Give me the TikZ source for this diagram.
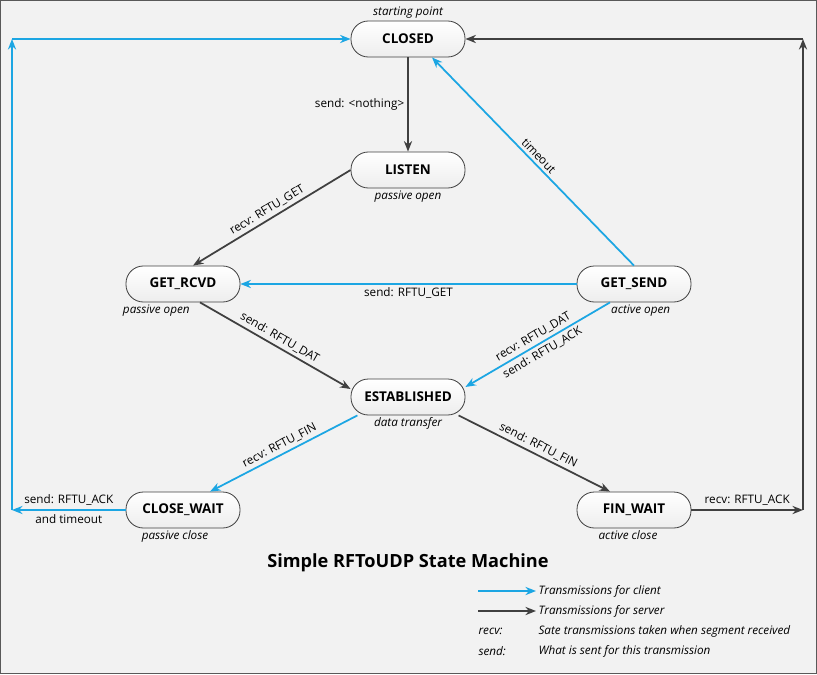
\documentclass[tikz,border=0pt]{standalone}
\usepackage{fontspec}
\setmainfont{Open Sans}
\usepackage{xcolor}
\usetikzlibrary{positioning, arrows.meta}

\definecolor{clientblue}{HTML}{1CA6E3}
\definecolor{serverdark}{HTML}{404040}
\definecolor{panelgray}{HTML}{F2F2F2}

\begin{document}
\begin{tikzpicture}[
    x=0.03cm, y=-0.03cm,
    state/.style={rectangle, rounded corners=0.52cm, draw=serverdark, line width=0.7pt, top color=white, bottom color=black!7, minimum width=3.42cm, minimum height=1.08cm, font=\bfseries\fontsize{11.5}{13}\selectfont},
    note/.style={font=\itshape\fontsize{10}{12}\selectfont, inner sep=2pt},
    lbl/.style={font=\fontsize{10}{12}\selectfont, inner sep=2.5pt},
    client/.style={draw=clientblue, line width=1.5pt, -{Stealth[length=9pt,width=7pt]}},
    server/.style={draw=serverdark, line width=1.5pt, -{Stealth[length=9pt,width=7pt]}}
]
    \useasboundingbox (0,0) rectangle (817,674);
    \draw[fill=panelgray, draw=black!65, line width=0.8pt] (0.5,0.5) rectangle (816.5,673.5);

    % states
    \node[state] (closed) at (408,39) {CLOSED};
    \node[state] (listen) at (408,170) {LISTEN};
    \node[state] (getrcvd) at (183,284) {GET\_RCVD};
    \node[state] (getsend) at (634,284) {GET\_SEND};
    \node[state] (established) at (408,397) {ESTABLISHED};
    \node[state] (closewait) at (183,510) {CLOSE\_WAIT};
    \node[state] (finwait) at (634,510) {FIN\_WAIT};

    % state notes
    \node[note, above=0pt of closed] (closednote) {starting point};
    \node[note, below=0pt of listen] (listennote) {passive open};
    \node[note, below=0pt of getrcvd, xshift=-0.8cm] (getrcvdnote) {passive open};
    \node[note, below=0pt of getsend, xshift=0.2cm] (getsendnote) {active open};
    \node[note, below=0pt of established] (establishednote) {data transfer};
    \node[note, below=0pt of closewait, xshift=-0.24cm] (closewaitnote) {passive close};
    \node[note, below=0pt of finwait, xshift=-0.18cm] (finwaitnote) {active close};

    % transitions
    \draw[server] (closed) -- (listen) node[lbl, midway, left] {send: <nothing>};
    \draw[server] (listen.west) -- ([xshift=0.3cm]getrcvd.north) node[lbl, midway, sloped, above] {recv: RFTU\_GET};
    \draw[client] (getsend.west) -- (getrcvd.east) node[lbl, midway, below] {send: RFTU\_GET};
    \draw[client] (getsend.north) -- ([xshift=0.72cm]closed.south) node[lbl, midway, sloped, above] {timeout};
    \draw[server] ([xshift=0.51cm]getrcvd.south) -- ([yshift=0.24cm]established.west) node[lbl, midway, sloped, above] {send: RFTU\_DAT};
    \draw[client] ([xshift=-0.72cm]getsend.south) -- ([yshift=0.3cm]established.east)
        node[lbl, midway, sloped, above] {recv: RFTU\_DAT}
        node[lbl, midway, sloped, below] {send: RFTU\_ACK};
    \draw[client] (established.200) -- ([xshift=0.81cm]closewait.north) node[lbl, midway, sloped, above] {recv: RFTU\_FIN};
    \draw[server] (established.340) -- ([xshift=-0.72cm]finwait.north) node[lbl, midway, sloped, above] {send: RFTU\_FIN};

    % back to CLOSED
    \coordinate (cwcorner) at (12,510);
    \coordinate (clcorner) at (12,39);
    \draw[client] (closewait.west) -- (cwcorner)
        node[lbl, midway, above, inner sep=3.5pt] {send: RFTU\_ACK}
        node[lbl, midway, below, inner sep=3.5pt] {and timeout};
    \draw[client] (cwcorner) -- (clcorner);
    \draw[client] (clcorner) -- (closed.west);

    \coordinate (fwcorner) at (803,510);
    \coordinate (crcorner) at (803,39);
    \draw[server] (finwait.east) -- (fwcorner) node[lbl, midway, above, inner sep=3.5pt] {recv: RFTU\_ACK};
    \draw[server] (fwcorner) -- (crcorner);
    \draw[server] (crcorner) -- (closed.east);

    % title and legend
    \node[font=\bfseries\fontsize{15.5}{18}\selectfont] (title) at (408,563) {Simple RFToUDP State Machine};

    \coordinate (legc) at (478,591);
    \node[note, anchor=west] (legclient) at (536,591) {Transmissions for client};
    \draw[client] (legc) -- (legclient.west);
    \coordinate (legs) at (478,611);
    \node[note, anchor=west] (legserver) at (536,611) {Transmissions for server};
    \draw[server] (legs) -- (legserver.west);
    \node[note, anchor=west] (legrecv) at (476,631) {recv:};
    \node[note, anchor=west] (legrecvtext) at (536,631) {Sate transmissions taken when segment received};
    \node[note, anchor=west] (legsend) at (476,651) {send:};
    \node[note, anchor=west] (legsendtext) at (536,651) {What is sent for this transmission};
\end{tikzpicture}
\end{document}
